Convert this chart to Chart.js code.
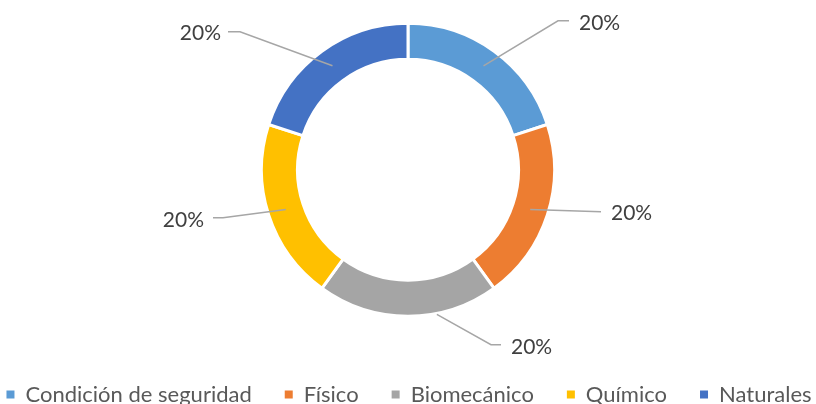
<!DOCTYPE html>
<html>
<head>
<meta charset="utf-8">
<script src="https://cdn.jsdelivr.net/npm/chart.js@4/dist/chart.umd.min.js"></script>
<style>
  html, body { margin: 0; padding: 0; background: #fff; }
  canvas { display: block; }
</style>
</head>
<body>
<canvas id="riskChart" width="816" height="404"></canvas>
<script>
// data
const categories = ['Condición de seguridad', 'Físico', 'Biomecánico', 'Químico', 'Naturales'];
const shares = [20, 20, 20, 20, 20];
const sliceColors = ['#5B9BD5', '#ED7D31', '#A5A5A5', '#FFC000', '#4472C4'];

// where each leader line bends and where its label sits, relative to the doughnut centre
const labelLayout = [
  { elbow: [150, -149], end: [161, -149], text: [171, -147], align: 'left' },
  { elbow: [193, 42], end: [193, 42], text: [203, 43], align: 'left' },
  { elbow: [83, 175], end: [93, 175], text: [103, 177], align: 'left', fromOuter: true },
  { elbow: [-185, 48], end: [-195, 48], text: [-204, 50], align: 'right' },
  { elbow: [-168, -138], end: [-180, -138], text: [-187, -137], align: 'right' }
];

const leaderLabels = {
  id: 'leaderLabels',
  afterDatasetsDraw(chart) {
    const ctx = chart.ctx;
    const meta = chart.getDatasetMeta(0);
    const values = chart.data.datasets[0].data;
    const total = values.reduce((a, b) => a + b, 0);
    meta.data.forEach((arc, i) => {
      const p = arc.getProps(['x', 'y', 'startAngle', 'endAngle', 'innerRadius', 'outerRadius'], true);
      const mid = (p.startAngle + p.endAngle) / 2;
      const lay = labelLayout[i];
      const r = (p.innerRadius + p.outerRadius) / 2;
      let sx = p.x + Math.cos(mid) * r;
      let sy = p.y + Math.sin(mid) * r;
      const ex = p.x + lay.elbow[0], ey = p.y + lay.elbow[1];
      if (lay.fromOuter) {
        // this line runs under the ring, so start it where it leaves the outer edge
        const dx = ex - sx, dy = ey - sy;
        let t0 = 0, t1 = 1;
        for (let k = 0; k < 30; k++) {
          const t = (t0 + t1) / 2;
          const d = Math.hypot(sx + dx * t - p.x, sy + dy * t - p.y);
          if (d < p.outerRadius + 1) t0 = t; else t1 = t;
        }
        sx = sx + dx * t1; sy = sy + dy * t1;
      }
      ctx.save();
      ctx.strokeStyle = '#A6A6A6';
      ctx.lineWidth = 1.5;
      ctx.beginPath();
      ctx.moveTo(sx, sy);
      ctx.lineTo(ex, ey);
      ctx.lineTo(p.x + lay.end[0], p.y + lay.end[1]);
      ctx.stroke();
      ctx.fillStyle = '#404040';
      ctx.font = '21px Lato';
      ctx.textAlign = lay.align;
      ctx.textBaseline = 'middle';
      ctx.fillText(Math.round(values[i] / total * 100) + '%', p.x + lay.text[0], p.y + lay.text[1]);
      ctx.restore();
    });
  }
};

const defaultLabels = Chart.overrides.doughnut.plugins.legend.labels.generateLabels;

new Chart(document.getElementById('riskChart'), {
  type: 'doughnut',
  data: {
    labels: categories,
    datasets: [{
      data: shares,
      backgroundColor: sliceColors,
      borderColor: '#ffffff',
      borderWidth: 3,
      radius: 146.5,
      cutout: '75.4%'
    }]
  },
  options: {
    responsive: false,
    animation: false,
    layout: { padding: { top: 0, bottom: -11.5, left: -40, right: -42 } },
    plugins: {
      tooltip: { enabled: false },
      legend: {
        position: 'bottom',
        // empty title only adds a bit of room above the legend row
        title: { display: true, text: '', padding: 0, font: { size: 10, lineHeight: 1.1 } },
        labels: {
          boxWidth: 8,
          boxHeight: 8,
          padding: 33,
          color: '#595959',
          font: { family: 'Lato', size: 22 },
          generateLabels: (chart) => defaultLabels(chart).map(l => ({ ...l, lineWidth: 0 }))
        }
      }
    }
  },
  plugins: [leaderLabels]
});
</script>
</body>
</html>
